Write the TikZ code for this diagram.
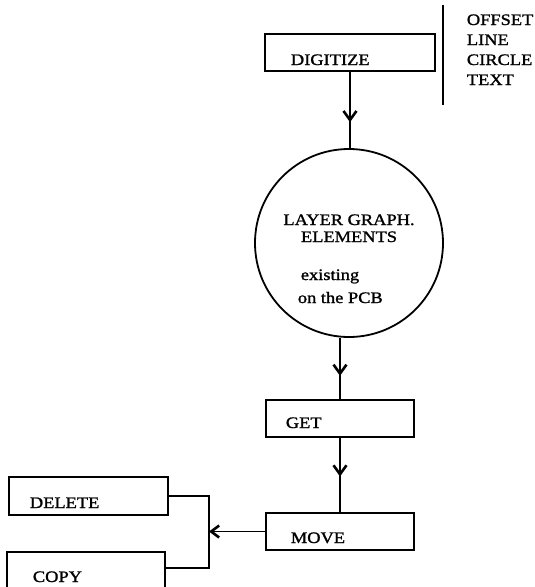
\documentclass[tikz,border=0pt]{standalone}
\usepackage{fontspec}
\setmainfont{Liberation Serif}[FakeStretch=1.15,FakeBold=1.3]
\usetikzlibrary{arrows.meta,decorations.markings}
\begin{document}
\begin{tikzpicture}[x=1pt,y=-1pt,line width=1.8pt,
  box/.style={draw, rectangle, inner sep=0pt},
  lbl/.style={anchor=base west, inner sep=0pt, font=\fontsize{16}{19}\selectfont},
  clbl/.style={anchor=base, inner sep=0pt, font=\fontsize{16}{19}\selectfont},
  barb/.style={-{Straight Barb[length=8pt,width=12pt,line width=2.6pt]}},
  midarrow/.style={postaction={decorate}, decoration={markings, mark=at position #1 with {\arrow{Straight Barb[length=9pt,width=13pt,line width=2.6pt]}}}}]
\useasboundingbox (0,0) rectangle (535,587);
\clip (0,0) rectangle (535,587);
% boxes
\node[box, minimum width=170pt, minimum height=37pt] (digitize) at (350,52.5) {};
\node[draw, circle, minimum size=188pt, inner sep=0pt] (layer) at (349,243) {};
\node[box, minimum width=148pt, minimum height=37pt] (get) at (340,418.5) {};
\node[box, minimum width=148pt, minimum height=37pt] (move) at (340,531.5) {};
\node[box, minimum width=159pt, minimum height=38pt] (delete) at (88.5,496) {};
\node[box, minimum width=158pt, minimum height=45pt] (copy) at (86,574.5) {};
% labels
\node[lbl] (tdig) at (290,65) {DIGITIZE};
\node[lbl] (toff) at (466,25) {OFFSET};
\node[lbl] (tline) at (466,45) {LINE};
\node[lbl] (tcirc) at (466,65) {CIRCLE};
\node[lbl] (ttext) at (466,85) {TEXT};
\node[clbl] (tlay1) at (349,225) {LAYER GRAPH.};
\node[clbl] (tlay2) at (349,242) {ELEMENTS};
\node[lbl] (tex) at (300,280) {existing};
\node[lbl] (tpcb) at (297,303) {on the PCB};
\node[lbl] (tget) at (285,428) {GET};
\node[lbl] (tmove) at (290,543) {MOVE};
\node[lbl] (tdel) at (29,508) {DELETE};
\node[lbl] (tcopy) at (32,582) {COPY};
% side bar
\coordinate (bt) at (443,5);
\coordinate (bb) at (443,105);
\draw (bt) -- (bb);
% connectors
\draw[midarrow=0.66] (digitize.south) -- (digitize.south |- layer.north);
\draw[midarrow=0.62] (get.north |- layer.south) -- (get.north);
\draw[midarrow=0.52] (get.south) -- (move.north);
\coordinate (jt) at (209,496);
\coordinate (jb) at (209,568);
\draw (delete.east) -- (jt) -- (jb) -- (copy.east |- jb);
\draw[barb] (move.west) -- (move.west -| jt);
\end{tikzpicture}
\end{document}
